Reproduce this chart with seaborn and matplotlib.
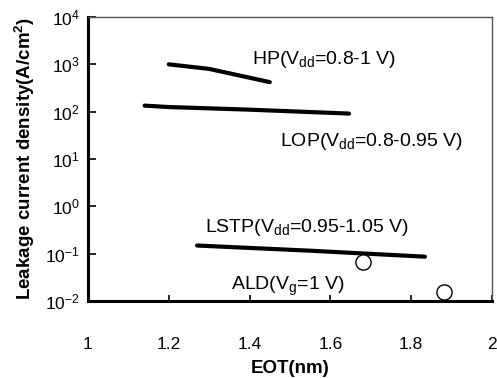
import matplotlib
matplotlib.use("Agg")
import matplotlib.pyplot as plt
import seaborn as sns
import numpy as np
import pandas as pd
from matplotlib.ticker import LogLocator, NullLocator, FixedLocator, FixedFormatter

# Data
hp_eot = [1.20, 1.30, 1.45]
hp_j = [1000, 800, 420]
lop_eot = [1.14, 1.20, 1.40, 1.646]
lop_j = [134, 125, 110, 91]
lstp_eot = [1.27, 1.55, 1.834]
lstp_j = [0.148, 0.115, 0.086]
ald_eot = [1.681, 1.881]
ald_j = [0.065, 0.0155]
xticks = [1, 1.2, 1.4, 1.6, 1.8, 2]
xticklabels = ["1", "1.2", "1.4", "1.6", "1.8", "2"]

sns.set_style("ticks")
plt.rcParams['font.family'] = ['Liberation Sans', 'DejaVu Sans']
plt.rcParams['mathtext.fontset'] = 'custom'
plt.rcParams['mathtext.rm'] = 'Liberation Sans'
plt.rcParams['mathtext.it'] = 'Liberation Sans:italic'
plt.rcParams['mathtext.bf'] = 'Liberation Sans:bold'
plt.rcParams['text.color'] = 'black'
plt.rcParams['axes.labelcolor'] = 'black'
plt.rcParams['xtick.color'] = 'black'
plt.rcParams['ytick.color'] = 'black'

fig = plt.figure(figsize=(4.97, 3.78), dpi=100)
ax = fig.add_axes([0.177, 0.204, 0.813, 0.751])

for xs, ys in [(hp_eot, hp_j), (lop_eot, lop_j), (lstp_eot, lstp_j)]:
    df = pd.DataFrame({"x": xs, "y": ys})
    sns.lineplot(data=df, x="x", y="y", ax=ax, color="black", linewidth=3,
                 solid_capstyle="round")
sns.scatterplot(x=ald_eot, y=ald_j, ax=ax, s=120, facecolor="white",
                edgecolor="black", linewidth=1.0, zorder=5)

ax.set_yscale("log")
ax.set_xlim(1, 2)
ax.set_ylim(1e-2, 1e4)
ax.yaxis.set_major_locator(LogLocator(base=10, numticks=10))
ax.yaxis.set_minor_locator(NullLocator())
ax.xaxis.set_major_locator(FixedLocator(xticks))
ax.xaxis.set_major_formatter(FixedFormatter(xticklabels))

ax.tick_params(axis="both", direction="in", labelsize=12.5, width=1.2,
               colors="black")
ax.tick_params(axis="y", length=6, pad=6)
ax.tick_params(axis="x", length=4, pad=26)

for s in ["left", "bottom"]:
    ax.spines[s].set_linewidth(2.2)
    ax.spines[s].set_color("black")
for s in ["top", "right"]:
    ax.spines[s].set_linewidth(1.0)
    ax.spines[s].set_color("#555555")

ax.set_xlabel("EOT(nm)", fontsize=13.5, fontweight="bold", labelpad=6)
ax.set_ylabel("Leakage current density(A/cm$^{\\mathbf{2}}$)", fontsize=13.5,
              fontweight="bold", labelpad=6)

fs = 14
ax.text(1.405, 1260, "HP(V$_{\\mathrm{dd}}$=0.8-1 V)", fontsize=fs, va="center", ha="left")
ax.text(1.476, 23, "LOP(V$_{\\mathrm{dd}}$=0.8-0.95 V)", fontsize=fs, va="center", ha="left")
ax.text(1.29, 0.35, "LSTP(V$_{\\mathrm{dd}}$=0.95-1.05 V)", fontsize=fs, va="center", ha="left")
ax.text(1.355, 0.02, "ALD(V$_{\\mathrm{g}}$=1 V)", fontsize=fs, va="center", ha="left")

fig.savefig("out.png", dpi=100)
